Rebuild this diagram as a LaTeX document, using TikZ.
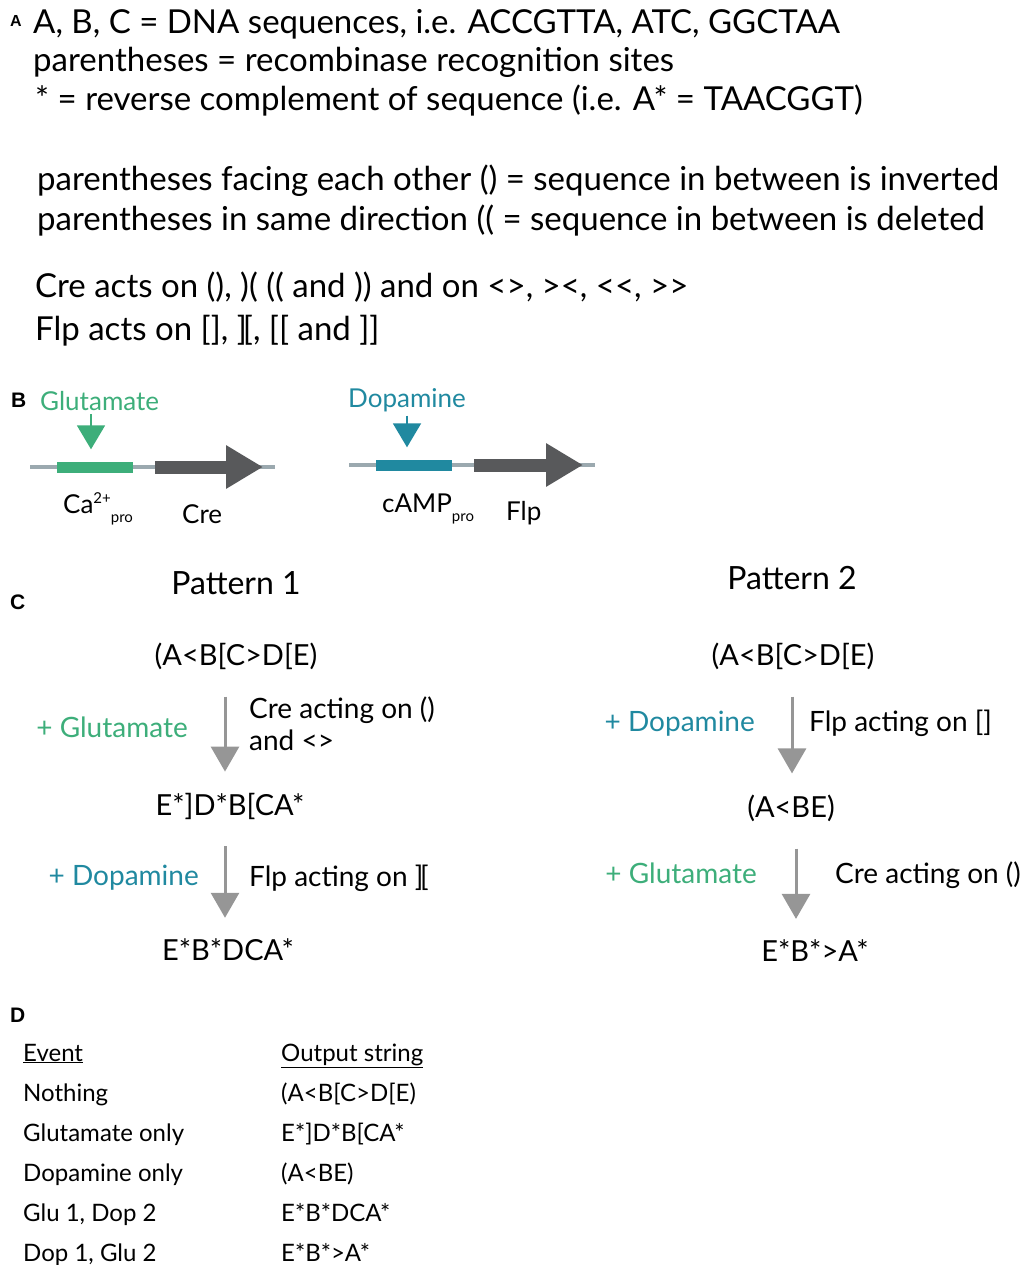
\documentclass[tikz,border=0pt]{standalone}
\usepackage{fontspec}
\setmainfont{Lato}
\newfontfamily\condfont{Lato}
\newfontfamily\panelfont{Liberation Sans}
\usetikzlibrary{arrows.meta,positioning}
\definecolor{glucol}{RGB}{61,174,122}
\definecolor{dopcol}{RGB}{32,137,160}
\definecolor{flowgray}{RGB}{150,150,150}
\definecolor{genegray}{RGB}{88,89,91}
\definecolor{dnagray}{RGB}{155,169,175}
\newcommand{\flpsites}{]\kern-.12em[}
\begin{document}
\begin{tikzpicture}[x=1pt, y=-1pt]
          \tikzset{
              mypanel/.style={inner sep=0, anchor=base west, font=\panelfont\bfseries\fontsize{21}{24}\selectfont},
              mydef/.style={inner sep=0, anchor=base west, font=\condfont\fontsize{33}{38}\selectfont},
              mycap/.style={inner sep=0, anchor=base west, font=\fontsize{26}{30}\selectfont},
              mytitle/.style={inner sep=0, font=\fontsize{32}{38}\selectfont},
              myseq/.style={inner sep=0, font=\fontsize{29}{34}\selectfont},
              mystep/.style={inner sep=0, font=\fontsize{28}{32}\selectfont, align=left},
              mytable/.style={inner sep=0, anchor=base west, font=\fontsize{24}{28}\selectfont},
              myarrow/.style={draw=flowgray, line width=3pt, shorten <=27pt, shorten >=21pt, -{Triangle[width=28pt,length=25pt]}},
              mysignal/.style={line width=2pt, shorten <=4pt, shorten >=12pt, -{Triangle[width=28pt,length=24pt]}},
              mydna/.style={draw=dnagray, line width=4pt},
              mybar/.style={inner sep=0, minimum width=76pt, minimum height=11pt},
              mygene/.style={draw=genegray, line width=13pt, -{Triangle[width=41pt,length=37pt]}}
          }
          \useasboundingbox (0,0) rectangle (1020,1265);

          \node[mypanel, font=\panelfont\bfseries\fontsize{16}{20}\selectfont] (labA) at (10,27) {A};
          \node[mydef] (defseq) at (33,34) {A, B, C = DNA sequences, i.e. ACCGTTA, ATC, GGCTAA};
          \node[mydef] (defsite) at (33,72) {parentheses = recombinase recognition sites};
          \node[mydef] (defstar) at (35,111) {* = reverse complement of sequence (i.e. A* = TAACGGT)};
          \node[mydef] (definv) at (37,191) {parentheses facing each other () = sequence in between is inverted};
          \node[mydef] (defdel) at (37,231) {parentheses in same direction (( = sequence in between is deleted};
          \node[mydef] (defcre) at (35,297) {Cre acts on (), )( (( and )) and on <>, ><, <<, >>};
          \node[mydef] (defflp) at (35,340) {Flp acts on [], \flpsites, [[ and ]]};

          \node[mypanel] (labB) at (11,407) {B};
          \node[mycap, text=glucol] (glu) at (40,410) {Glutamate};
          \coordinate (dnaAl) at (30,467);
          \coordinate (dnaAr) at (275,467);
          \draw[mydna] (dnaAl) -- (dnaAr);
          \node[mybar, fill=glucol] (capro) at (95,467) {};
          \coordinate (creA) at (155,467);
          \coordinate (creB) at (263,467);
          \draw[mygene] (creA) -- (creB);
          \draw[mysignal, glucol] ([xshift=-4pt]capro.north |- glu.south) -- ([xshift=-4pt]capro.north);
          \node[mycap] (caname) at (63,513) {Ca\raisebox{10pt}{\fontsize{15}{15}\selectfont 2+}\raisebox{-9pt}{\fontsize{15}{15}\selectfont pro}};
          \node[mycap] (crename) at (182,523) {Cre};

          \node[mycap, text=dopcol] (dop) at (348,407) {Dopamine};
          \coordinate (dnaBl) at (349,465);
          \coordinate (dnaBr) at (595,465);
          \draw[mydna] (dnaBl) -- (dnaBr);
          \node[mybar, fill=dopcol] (campro) at (414,465) {};
          \coordinate (flpA) at (474,465);
          \coordinate (flpB) at (583,465);
          \draw[mygene] (flpA) -- (flpB);
          \draw[mysignal, dopcol] ([xshift=-7pt]campro.north |- dop.south) -- ([xshift=-7pt]campro.north);
          \node[mycap] (campname) at (382,512) {cAMP\raisebox{-9pt}{\fontsize{15}{15}\selectfont pro}};
          \node[mycap] (flpname) at (506,520) {Flp};

          \node[mypanel] (labC) at (10,609) {C};
          \node[mytitle] (patA) at (236,583) {Pattern 1};
          \node[mytitle] (patB) at (792,578) {Pattern 2};

          \node[myseq] (pAs0) at (236,656) {(A<B[C>D[E)};
          \node[myseq] (pAs1) at (230,806) {E*]D*B[CA*};
          \node[myseq] (pAs2) at (228,950) {E*B*DCA*};
          \coordinate (pAaxis) at (225,0);
          \draw[myarrow] (pAs0.south -| pAaxis) -- (pAs1.north -| pAaxis);
          \draw[myarrow] (pAs1.south -| pAaxis) -- (pAs2.north -| pAaxis);
          \node[mystep, text=glucol, anchor=east] (pAe1) at (188,727) {+ Glutamate};
          \node[mystep, anchor=west] (pAr1) at (249,724) {Cre acting on ()\\and <>};
          \node[mystep, text=dopcol, anchor=east] (pAe2) at (199,878) {+ Dopamine};
          \node[mystep, anchor=west] (pAr2) at (249,878) {Flp acting on \flpsites};

          \node[myseq] (pBs0) at (793,656) {(A<B[C>D[E)};
          \node[myseq] (pBs1) at (791,808) {(A<BE)};
          \node[myseq] (pBs2) at (815,951) {E*B*>A*};
          \coordinate (pBaxis1) at (792,0);
          \coordinate (pBaxis2) at (796,0);
          \draw[myarrow] (pBs0.south -| pBaxis1) -- (pBs1.north -| pBaxis1);
          \draw[myarrow] (pBs1.south -| pBaxis2) -- (pBs2.north -| pBaxis2);
          \node[mystep, text=dopcol, anchor=east] (pBe1) at (755,724) {+ Dopamine};
          \node[mystep, anchor=west] (pBr1) at (809,723) {Flp acting on []};
          \node[mystep, text=glucol, anchor=east] (pBe2) at (757,873) {+ Glutamate};
          \node[mystep, anchor=west] (pBr2) at (835,875) {Cre acting on ()};

          \node[mypanel] (labD) at (10,1022) {D};
          \node[mytable] (evhead) at (23,1061) {\underline{Event}};
          \node[mytable] (outhead) at (281,1061) {\underline{Output string}};
          \node[mytable] (evnone) at (23,1101) {Nothing};
          \node[mytable] (outnone) at (281,1101) {(A<B[C>D[E)};
          \node[mytable] (evglu) at (23,1141) {Glutamate only};
          \node[mytable] (outglu) at (281,1141) {E*]D*B[CA*};
          \node[mytable] (evdop) at (23,1181) {Dopamine only};
          \node[mytable] (outdop) at (281,1181) {(A<BE)};
          \node[mytable] (evgludop) at (23,1221) {Glu 1, Dop 2};
          \node[mytable] (outgludop) at (281,1221) {E*B*DCA*};
          \node[mytable] (evdopglu) at (23,1261) {Dop 1, Glu 2};
          \node[mytable] (outdopglu) at (281,1261) {E*B*>A*};
\end{tikzpicture}
\end{document}
